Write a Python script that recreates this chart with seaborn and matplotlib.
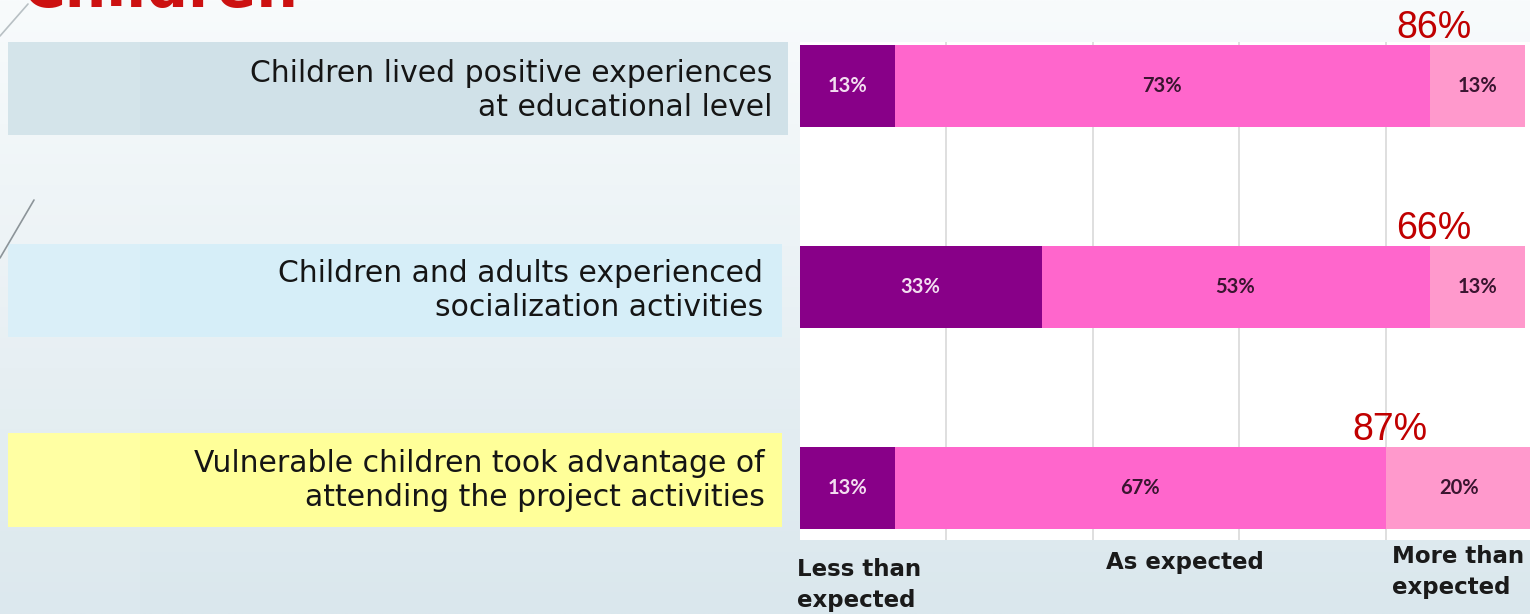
import numpy as np
import pandas as pd
import matplotlib
matplotlib.use("Agg")
import matplotlib.pyplot as plt
import matplotlib.transforms as mtransforms
from matplotlib.patches import Rectangle
from matplotlib.lines import Line2D
import seaborn as sns

# ---------------- data ----------------
items = [
    "Children lived positive experiences\nat educational level",
    "Children and adults experienced\nsocialization activities",
    "Vulnerable children took advantage of\nattending the project activities",
]
less_than = [13, 33, 13]
as_expected = [73, 53, 67]
more_than = [13, 13, 20]
total_labels = ["86%", "66%", "87%"]
scale_labels = ["Less than\nexpected", "As expected", "More than\nexpected"]
title_text = "Children"

# ---------------- style ----------------
sns.set_theme(style="white")
plt.rcParams["font.family"] = ["DejaVu Sans"]

W, H = 1530, 614
fig = plt.figure(figsize=(W / 100, H / 100), dpi=100)

# background gradient
bg = fig.add_axes([0, 0, 1, 1], zorder=-10)
top = np.array([0xF8, 0xFB, 0xFC]) / 255
bot = np.array([0xDA, 0xE7, 0xED]) / 255
t = np.linspace(0, 1, 256)[:, None]
grad = top[None, :] * (1 - t) + bot[None, :] * t
grad = np.repeat(grad[:, None, :], 4, axis=1)
bg.imshow(grad, extent=[0, 1, 0, 1], aspect="auto", origin="upper")
bg.set_xlim(0, 1)
bg.set_ylim(0, 1)
bg.axis("off")

def fx(px):
    return px / W

def fy(py):
    return 1 - py / H

# faint left column of the slide background
fig.add_artist(Rectangle((0, 0), fx(140), 1, facecolor="white", alpha=0.06,
                         edgecolor="none", zorder=0))

# decorative diagonal lines
fig.add_artist(Line2D([fx(0), fx(28)], [fy(36), fy(4)], color="#B8C0C4", lw=1.2))
fig.add_artist(Line2D([fx(34), fx(0)], [fy(200), fy(258)], color="#8C9499", lw=1.2))

# title (cut at top, as in the slide)
fig.text(fx(22), fy(7), title_text, color="#CC1111", fontsize=42, fontweight="bold",
         ha="left", va="baseline")

# left label boxes
box_specs = [
    (8, 788, 42, 135, "#D0E1E8", 772, (73, 108)),
    (8, 782, 244, 337, "#D6EEF8", 763, (273, 308)),
    (8, 782, 433, 527, "#FFFF99", 765, (463, 497)),
]
for (x0, x1, y0, y1, col, tx, ty), label in zip(box_specs, items):
    fig.add_artist(Rectangle((fx(x0), fy(y1)), fx(x1 - x0), (y1 - y0) / H,
                             facecolor=col, edgecolor="none", zorder=1))
    fig.add_artist(Rectangle((fx(x0), fy(y1)), fx(140 - x0), (y1 - y0) / H,
                             facecolor="white", alpha=0.10, edgecolor="none", zorder=1))
    lines = label.split("\n")
    for line, yy in zip(lines, ty):
        fig.text(fx(tx), fy(yy), line, ha="right", va="center", fontsize=21.5,
                 family=["DejaVu Sans"], color="#151515", zorder=2)

# ---------------- chart ----------------
ax = fig.add_axes([fx(800), fy(540), 732 / W, 498 / H])
ax.set_facecolor("white")

df = pd.DataFrame({
    "item": items,
    "less": less_than,
    "asexp": as_expected,
    "more": more_than,
})
df["c1"] = df["less"]
df["c2"] = df["less"] + df["asexp"]
df["c3"] = df["less"] + df["asexp"] + df["more"]

purple = "#880088"
pink = "#FF66CC"
light = "#FF99CC"
bw = 0.41
for col, colr in [("c3", light), ("c2", pink), ("c1", purple)]:
    sns.barplot(data=df, x=col, y="item", orient="h", color=colr, saturation=1,
                width=bw, ax=ax, order=items, linewidth=0, edgecolor="none", zorder=3)

ax.set_xlim(0, 100)
ax.set_ylim(2 + 0.259, -0.219)
ax.set_xticks([20, 40, 60, 80])
ax.set_xticklabels([])
ax.set_yticks([])
ax.set_xlabel("")
ax.set_ylabel("")
ax.grid(axis="x", color="#DCDCDC", lw=1.3)
ax.grid(axis="y", visible=False)
ax.set_axisbelow(True)
ax.tick_params(length=0)
for s in ax.spines.values():
    s.set_visible(False)

# segment labels
for i in range(len(items)):
    l, a, m = less_than[i], as_expected[i], more_than[i]
    segs = [(l / 2, f"{l}%", "#F3DDF0"),
            (l + a / 2, f"{a}%", "#3A1530"),
            (l + a + m / 2, f"{m}%", "#3A1530")]
    for xc, txt, tc in segs:
        ax.text(xc, i, txt, ha="center", va="center", fontsize=14.5, fontweight="bold",
                family=["Lato", "DejaVu Sans"], color=tc, zorder=5)
    # totals above bar
    ax.text(l + a + 0.6, i - bw / 2 - 0.035, total_labels[i], ha="center", va="baseline",
            fontsize=27, family=["Liberation Sans", "DejaVu Sans"], color="#C00000", zorder=5,
            clip_on=False)

# scale labels under the chart
trans = mtransforms.blended_transform_factory(ax.transData, fig.transFigure)
scale_pos = [(-0.4, 585, "left"), (52.6, 563, "center"), (80.9, 572, "left")]
for (xp, yp, ha), txt in zip(scale_pos, scale_labels):
    ax.text(xp, fy(yp), txt, transform=trans, ha=ha, va="center", fontsize=16.5,
            fontweight="bold", color="#1A1A1A", linespacing=1.4, clip_on=False)

fig.savefig("out.png", dpi=100)
